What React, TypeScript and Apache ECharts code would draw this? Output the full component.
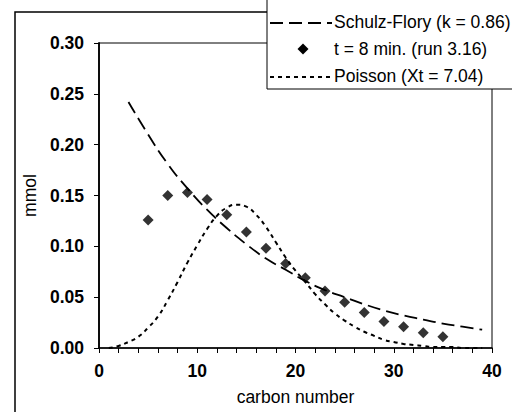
import React, { useEffect, useRef } from "react";
import * as echarts from "echarts";

const sfCarbon = [3, 5, 7, 9, 11, 13, 15, 17, 19, 21, 23, 25, 27, 29, 31, 33, 35, 37, 39];
const sfValues = [0.242, 0.210, 0.181, 0.157, 0.136, 0.118, 0.102, 0.088, 0.077, 0.066, 0.057, 0.050, 0.043, 0.037, 0.032, 0.028, 0.024, 0.021, 0.018];

const expCarbon = [5, 7, 9, 11, 13, 15, 17, 19, 21, 23, 25, 27, 29, 31, 33, 35];
const expValues = [0.126, 0.150, 0.153, 0.146, 0.131, 0.114, 0.098, 0.083, 0.069, 0.056, 0.045, 0.035, 0.026, 0.021, 0.015, 0.011];

const poCarbon = [1, 2, 3, 4, 5, 6, 7, 8, 9, 10, 11, 12, 13, 14, 15, 16, 17, 18, 19, 20, 21, 22, 23, 24, 25, 26, 27, 28, 29, 30, 31, 32, 33, 34, 35, 36, 37, 38, 39];
const poValues = [0.000, 0.002, 0.006, 0.011, 0.020, 0.031, 0.047, 0.065, 0.084, 0.101, 0.117, 0.130, 0.138, 0.141, 0.139, 0.131, 0.119, 0.104, 0.089, 0.076, 0.065, 0.053, 0.043, 0.034, 0.027, 0.021, 0.016, 0.012, 0.008, 0.006, 0.004, 0.003, 0.002, 0.001, 0.001, 0.001, 0.000, 0.000, 0.000];

const legendLabels = ["Schulz-Flory (k = 0.86)", "t = 8 min. (run 3.16)", "Poisson (Xt = 7.04)"];
const xTicks = { min: 0, max: 40, interval: 10 };
const yTicks = { min: 0, max: 0.3, interval: 0.05 };

const FONT = "'Liberation Sans', Arial, sans-serif";

export default function App() {
  const ref = useRef<HTMLDivElement>(null);
  useEffect(() => {
    if (!ref.current) return;
    const chart = echarts.init(ref.current, null, { renderer: "svg" });
    const rowY = [22, 49, 76];
    const option: any = {
      animation: false,
      backgroundColor: "#fff",
      textStyle: { fontFamily: FONT },
      grid: {
        left: 99,
        right: 20,
        top: 43,
        bottom: 64,
        show: true,
        borderColor: "#000",
        borderWidth: 1,
      },
      xAxis: {
        type: "value",
        min: xTicks.min,
        max: xTicks.max,
        interval: xTicks.interval,
        name: "carbon number",
        nameLocation: "middle",
        nameGap: 40,
        nameTextStyle: { color: "#000", fontSize: 17.5, fontFamily: FONT },
        axisLine: { onZero: false, lineStyle: { color: "#000", width: 1.5 } },
        axisTick: { show: true, inside: false, length: 5, lineStyle: { color: "#000", width: 1 } },
        minorTick: { show: true, splitNumber: 5, length: 5, lineStyle: { color: "#000", width: 1 } },
        axisLabel: { color: "#000", fontSize: 17.5, fontWeight: "bold", margin: 14, fontFamily: FONT },
        splitLine: { show: false },
      },
      yAxis: {
        type: "value",
        min: yTicks.min,
        max: yTicks.max,
        interval: yTicks.interval,
        name: "mmol",
        nameLocation: "middle",
        nameGap: 57,
        nameTextStyle: { color: "#000", fontSize: 17.5, fontFamily: FONT },
        axisLine: { show: true, onZero: false, lineStyle: { color: "#000", width: 1.8 } },
        axisTick: { show: true, inside: false, length: 5, lineStyle: { color: "#000", width: 1 } },
        axisLabel: {
          color: "#000",
          fontSize: 17.5,
          fontWeight: "bold",
          margin: 15,
          fontFamily: FONT,
          formatter: (v: number) => v.toFixed(2),
        },
        splitLine: { show: false },
      },
      series: [
        {
          name: legendLabels[0],
          type: "line",
          smooth: true,
          symbol: "none",
          data: sfCarbon.map((c, i) => [c, sfValues[i]]),
          lineStyle: { color: "#000", width: 1.8, type: [13, 6] },
          z: 3,
        },
        {
          name: legendLabels[1],
          type: "scatter",
          symbol: "diamond",
          symbolSize: 11,
          data: expCarbon.map((c, i) => [c, expValues[i]]),
          itemStyle: { color: "#000" },
          z: 4,
        },
        {
          name: legendLabels[2],
          type: "line",
          smooth: true,
          symbol: "none",
          data: poCarbon.map((c, i) => [c, poValues[i]]),
          lineStyle: { color: "#000", width: 2, type: [4, 4] },
          z: 3,
        },
      ],
      graphic: [
        {
          type: "rect",
          shape: { x: 15, y: 12, width: 600, height: 500 },
          style: { fill: "none", stroke: "#000", lineWidth: 1.5 },
          z: 1,
          silent: true,
        },
        {
          type: "group",
          z: 100,
          children: [
            {
              type: "rect",
              shape: { x: 267, y: -5, width: 260, height: 94 },
              style: { fill: "#fff", stroke: "#000", lineWidth: 1 },
              z: 100,
            },
            {
              type: "line",
              shape: { x1: 270, y1: rowY[0] + 1, x2: 332, y2: rowY[0] + 1 },
              style: { stroke: "#000", lineWidth: 1.8, lineDash: [13, 6] },
              z: 101,
            },
            {
              type: "polygon",
              shape: { points: [[303, rowY[1] - 5.5], [308.5, rowY[1]], [303, rowY[1] + 5.5], [297.5, rowY[1]]] },
              style: { fill: "#000" },
              z: 101,
            },
            {
              type: "line",
              shape: { x1: 270, y1: rowY[2] + 1, x2: 332, y2: rowY[2] + 1 },
              style: { stroke: "#000", lineWidth: 1.8, lineDash: [4, 4] },
              z: 101,
            },
            ...legendLabels.map((t, i) => ({
              type: "text",
              x: 334,
              y: rowY[i],
              style: {
                text: t,
                fill: "#000",
                fontSize: 17.5,
                fontFamily: FONT,
                verticalAlign: "middle",
                align: "left",
              },
              z: 101,
            })),
          ],
        },
      ],
    };
    chart.setOption(option);
    return () => chart.dispose();
  }, []);
  return (
    <div
      ref={ref}
      style={{ position: "fixed", left: 0, top: 0, width: 512, height: 412 }}
    />
  );
}
